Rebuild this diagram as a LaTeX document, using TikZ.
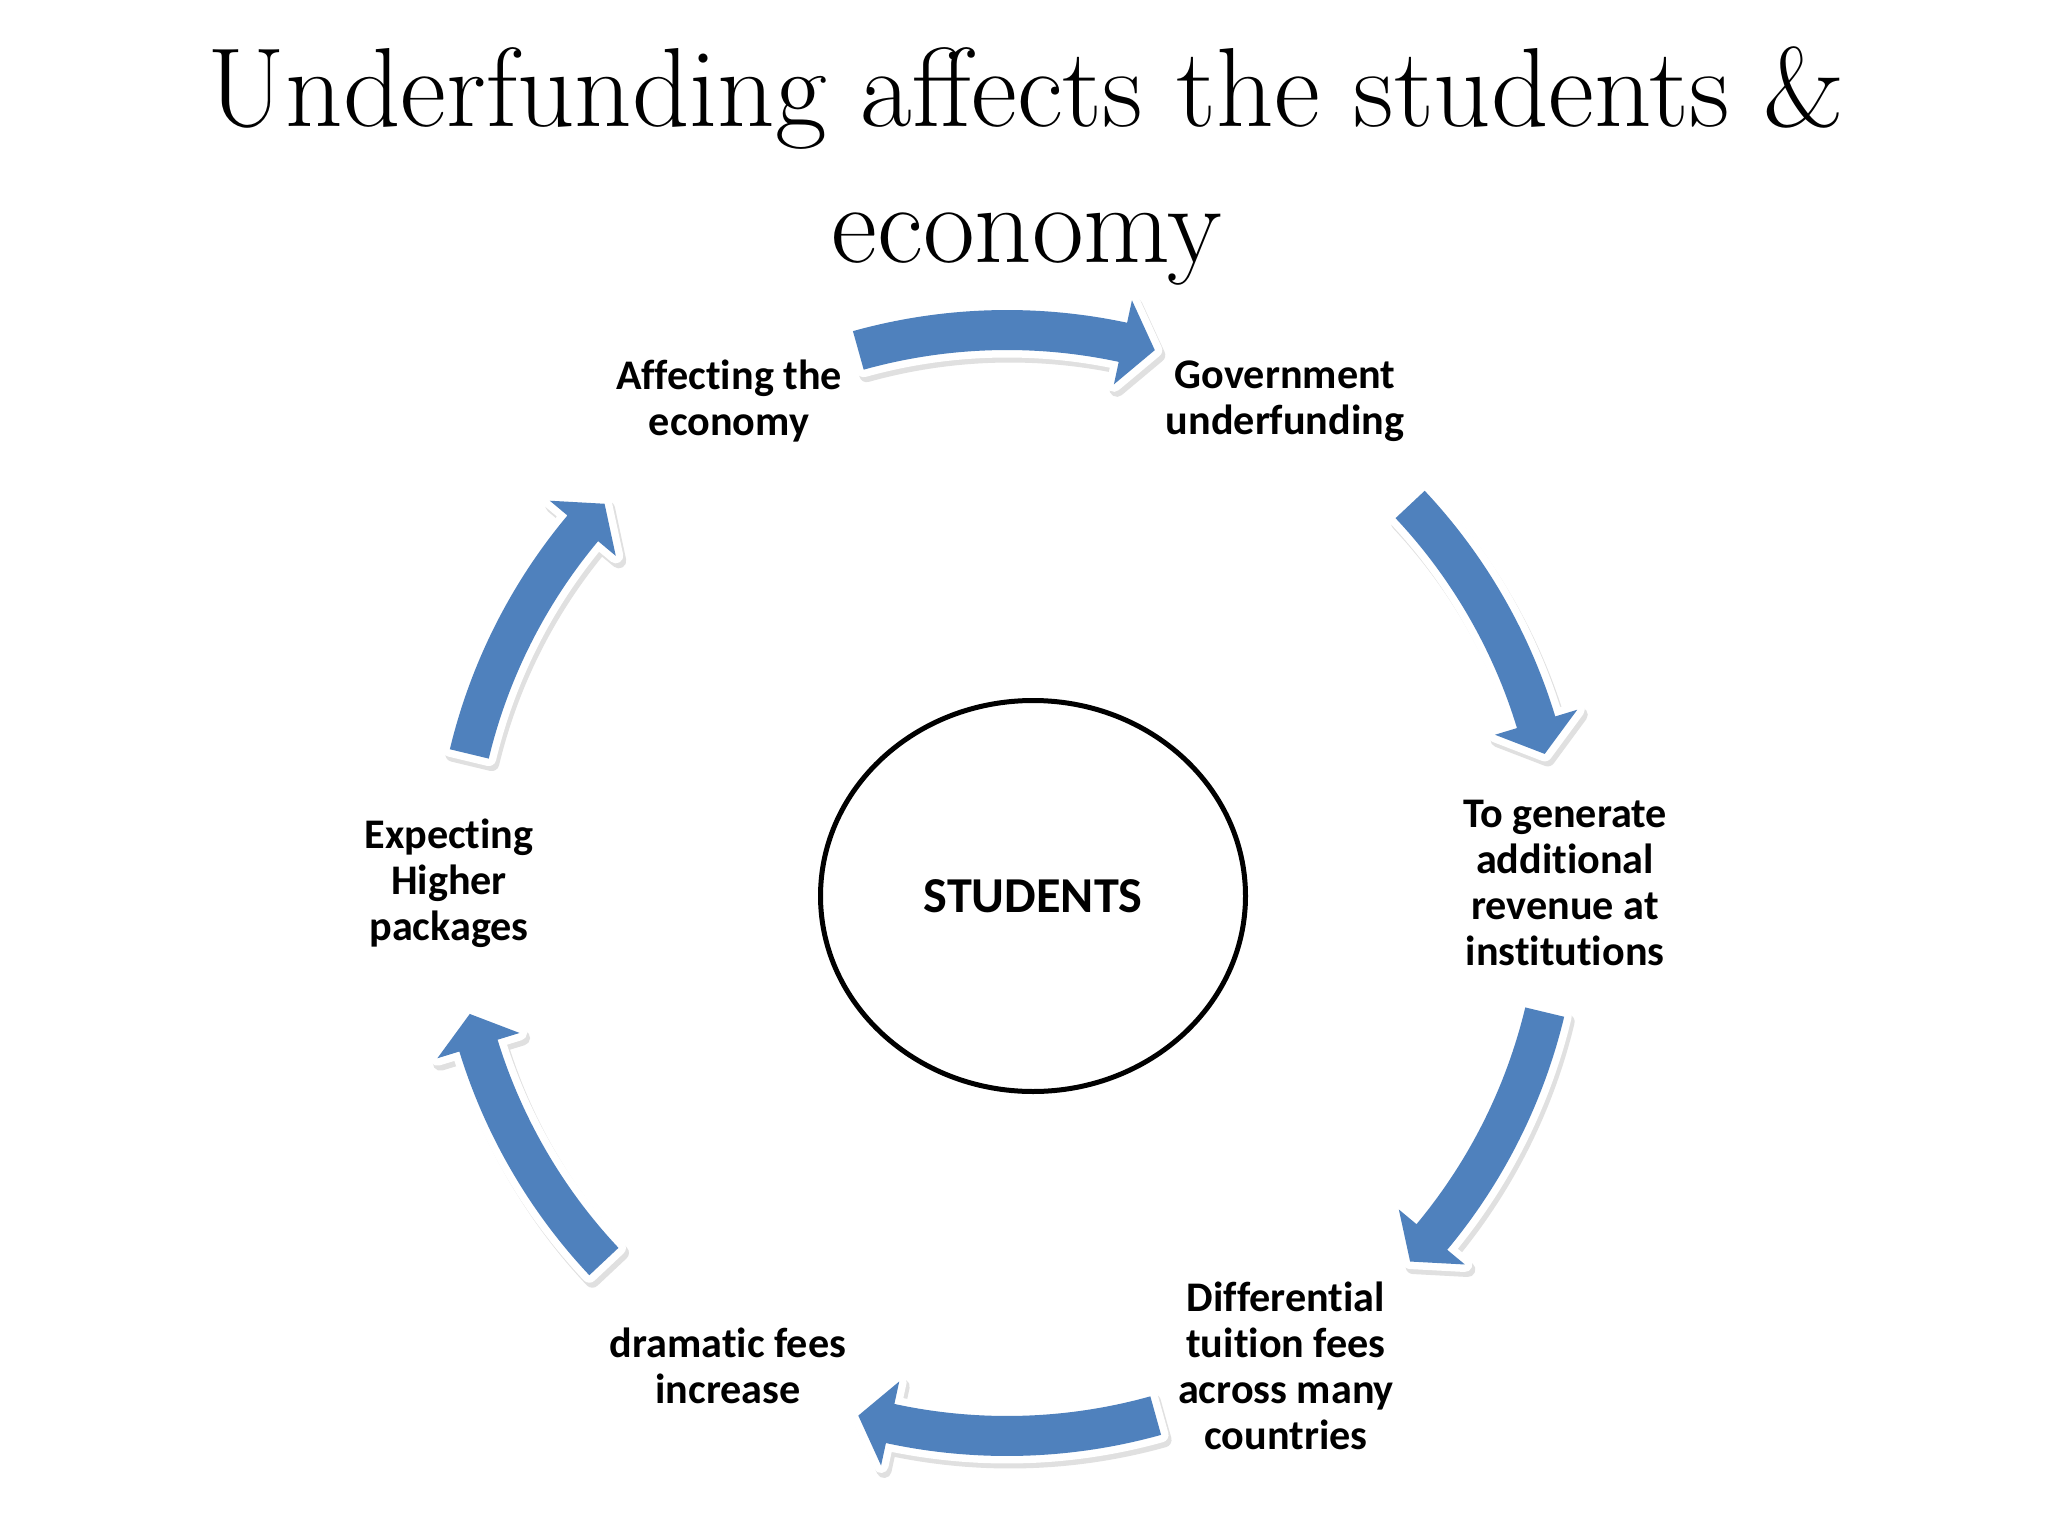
\documentclass[tikz,border=0pt]{standalone}
\usepackage{fontspec}
\newfontfamily\calibri[Ligatures={NoCommon}]{Carlito}
\usetikzlibrary{shapes.geometric}
\definecolor{cycleblue}{RGB}{79,129,189}
\def\cyclearrow(#1:#2){%
	\pgfmathsetmacro\headbase{#2+3.4}
	\path[arrowband] (#1:573) arc[start angle=#1, end angle=\headbase, radius=573]
		-- (\headbase:596) -- (#2:553) -- (\headbase:510) -- (\headbase:533)
		arc[start angle=\headbase, end angle=#1, radius=533] -- cycle;}
\tikzset{
	steptext/.style={font=\calibri\bfseries\fontsize{12}{13.1}\selectfont, align=center, inner sep=0pt},
	titletext/.style={anchor=base, font=\fontsize{32}{38}\selectfont},
	arrowband/.style={fill=cycleblue,
		preaction={fill=black!12, draw=black!12, line width=1.5mm, line join=round,
			transform canvas={shift={(0.3mm,-0.5mm)}}},
		preaction={draw=white, line width=1.5mm, line join=round}},
}

\begin{document}
\begin{tikzpicture}[x=0.1mm, y=0.1mm]
			%%%%% START %%%%%
			
			\useasboundingbox (0,0) rectangle (2048,1536);
			\fill[white] (0,0) rectangle (2048,1536);
			
			\node[titletext] (title1) at (1026,1409) {Underfunding affects the students \&};
			\node[titletext] (title2) at (1027,1273) {economy};
			
			\node[ellipse, draw, line width=0.5mm, minimum width=42.5mm, minimum height=39.1mm,
				font=\calibri\bfseries\fontsize{14.3}{17}\selectfont] (students) at (1033,640) {STUDENTS};
			
			\begin{scope}[shift={(1007,653)}]
				\node[steptext] (gov) at (60:556) {Government\\underfunding};
				\node[steptext] (revenue) at (0:558) {To generate\\additional\\revenue at\\institutions};
				\node[steptext] (tuition) at (-60:558) {Differential\\tuition fees\\across many\\countries};
				\node[steptext] (fees) at (-120:558) {dramatic fees\\increase};
				\node[steptext] (packages) at (180:558) {Expecting\\Higher\\packages};
				\node[steptext] (economy) at (120:556) {Affecting the\\economy};
				
				\cyclearrow(105.6:74.5)
				\cyclearrow(43.2:13.5)
				\cyclearrow(-13.5:-43.2)
				\cyclearrow(-74.4:-105.6)
				\cyclearrow(-136.8:-166.3)
				\cyclearrow(166.5:136.7)
			\end{scope}
			
			%%%%% END %%%%%
\end{tikzpicture}
\end{document}
